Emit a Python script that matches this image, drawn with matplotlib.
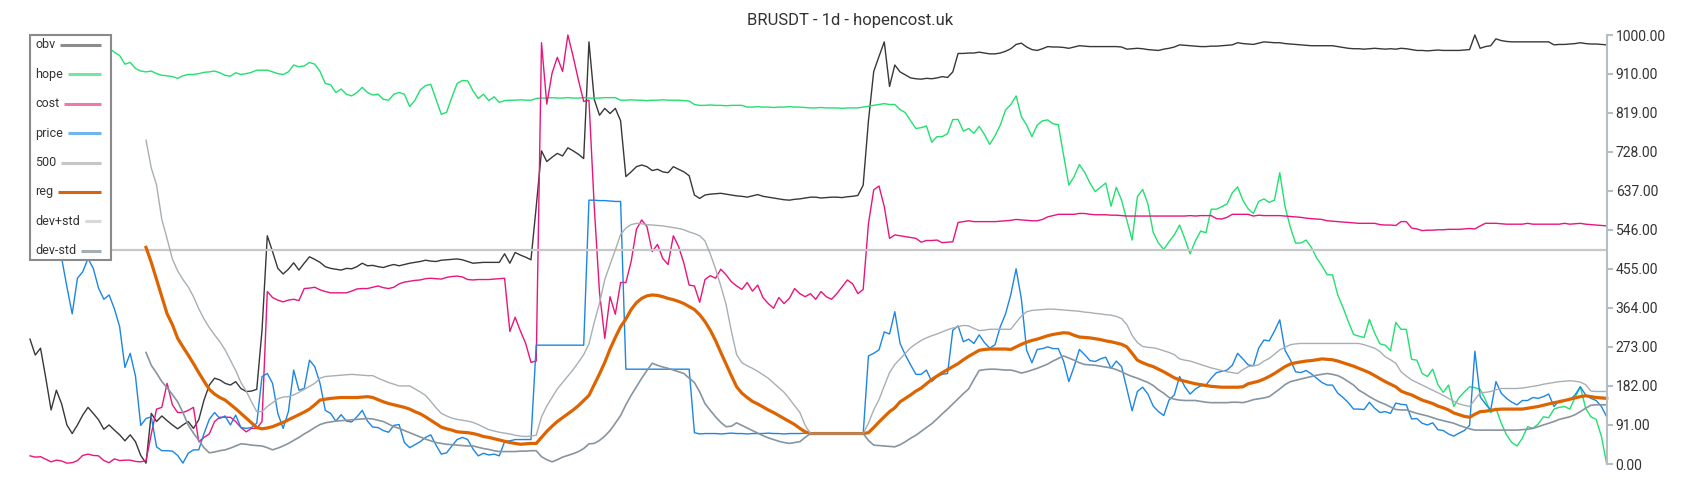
import numpy as np
import matplotlib
matplotlib.use("Agg")
import matplotlib.pyplot as plt
from matplotlib.patches import Rectangle
from matplotlib.lines import Line2D

plt.rcParams['font.family'] = ['Roboto', 'DejaVu Sans']

TITLE = "BRUSDT - 1d - hopencost.uk"
YTICKS = [0, 91, 182, 273, 364, 455, 546, 637, 728, 819, 910, 1000]
LEVEL_500 = 500
BAND_START = 22

obv = [
    291, 254, 270, 200, 126, 172, 140, 91, 71, 91,
    114, 132, 118, 103, 81, 91, 79, 68, 54, 68,
    52, 20, 2, 118, 99, 112, 101, 91, 82, 91,
    99, 83, 103, 149, 184, 200, 196, 188, 184, 192,
    176, 169, 170, 174, 312, 532, 495, 456, 443, 454,
    469, 452, 468, 483, 477, 470, 460, 456, 454, 452,
    456, 455, 460, 468, 462, 463, 460, 458, 462, 465,
    462, 465, 468, 470, 472, 475, 473, 472, 475, 476,
    477, 478, 476, 472, 468, 469, 470, 470, 470, 470,
    490, 468, 493, 487, 482, 476, 600, 730, 705, 715,
    724, 718, 737, 730, 722, 712, 984, 850, 813, 829,
    817, 829, 800, 670, 681, 693, 697, 693, 684, 687,
    681, 679, 693, 687, 681, 672, 627, 619, 627, 629,
    630, 631, 629, 627, 625, 624, 622, 625, 628, 624,
    622, 620, 618, 616, 615, 617, 618, 620, 622, 622,
    620, 621, 622, 622, 621, 623, 624, 626, 650, 800,
    915, 950, 984, 880, 930, 914, 907, 900, 898, 897,
    899, 898, 900, 903, 901, 914, 957, 957, 958, 958,
    960, 958, 956, 956, 958, 962, 968, 978, 981, 972,
    966, 964, 968, 973, 972, 972, 971, 969, 972, 975,
    974, 973, 973, 973, 973, 973, 973, 972, 967, 968,
    969, 968, 966, 965, 964, 967, 969, 972, 977, 976,
    975, 974, 973, 973, 974, 974, 975, 976, 977, 982,
    980, 979, 978, 981, 984, 983, 982, 982, 980, 979,
    978, 977, 976, 975, 975, 975, 975, 975, 973, 971,
    969, 968, 968, 967, 968, 969, 968, 967, 968, 967,
    969, 968, 966, 964, 964, 963, 964, 965, 964, 964,
    964, 964, 965, 966, 1000, 969, 973, 975, 991, 987,
    985, 984, 984, 984, 984, 984, 984, 984, 984, 977,
    978, 978, 979, 980, 982, 980, 979, 979, 978, 977,
]

hope = [
    1000, 998, 995, 992, 990, 988, 985, 983, 980, 978,
    976, 975, 973, 972, 971, 969, 960, 952, 932, 936,
    922, 916, 914, 916, 910, 906, 905, 903, 899, 905,
    908, 908, 910, 913, 914, 916, 912, 906, 904, 912,
    908, 910, 913, 918, 918, 918, 914, 910, 908, 914,
    930, 926, 928, 936, 932, 915, 887, 884, 866, 874,
    862, 858, 866, 878, 866, 860, 862, 850, 848, 862,
    866, 862, 833, 848, 872, 882, 885, 850, 815, 820,
    855, 887, 894, 893, 870, 852, 862, 847, 856, 843,
    847, 848, 848, 849, 848, 848, 852, 853, 853, 854,
    853, 853, 854, 853, 853, 854, 853, 853, 853, 854,
    854, 854, 848, 848, 849, 848, 848, 847, 848, 848,
    849, 848, 848, 848, 847, 846, 838, 836, 836, 837,
    836, 836, 835, 836, 836, 836, 832, 832, 833, 832,
    832, 831, 832, 832, 833, 832, 832, 831, 830, 830,
    831, 830, 830, 830, 829, 830, 830, 830, 832, 834,
    836, 838, 840, 838, 838, 826, 819, 800, 782, 784,
    788, 750, 763, 763, 770, 803, 803, 776, 782, 771,
    787, 768, 745, 765, 790, 825, 838, 858, 810, 790,
    763, 790, 800, 802, 793, 791, 720, 650, 670, 698,
    680, 655, 635, 645, 655, 601, 645, 615, 569, 522,
    623, 640, 606, 540, 515, 500, 518, 534, 557, 525,
    490, 520, 543, 539, 594, 594, 600, 606, 632, 646,
    615, 595, 584, 612, 618, 610, 615, 679, 600, 552,
    515, 515, 522, 505, 480, 462, 441, 441, 394, 365,
    332, 302, 298, 295, 337, 305, 280, 277, 264, 330,
    314, 314, 244, 242, 211, 204, 221, 185, 167, 184,
    134, 155, 168, 180, 178, 174, 150, 120, 130, 95,
    68, 50, 42, 60, 87, 83, 93, 110, 108, 128,
    132, 134, 128, 155, 180, 130, 110, 104, 64, 0,
]

cost = [
    19, 16, 17, 11, 5, 9, 7, 2, 3, 8,
    20, 23, 20, 19, 8, 3, 12, 8, 9, 9,
    6, 5, 8, 70, 128, 132, 188, 138, 120, 120,
    125, 132, 52, 62, 70, 99, 109, 109, 109, 99,
    85, 75, 83, 83, 99, 402, 388, 382, 378, 382,
    384, 381, 409, 410, 412, 406, 402, 399, 399, 399,
    399, 403, 408, 409, 409, 412, 415, 411, 409, 412,
    420, 424, 426, 428, 429, 432, 433, 432, 431, 435,
    437, 438, 436, 430, 429, 430, 430, 430, 431, 432,
    433, 309, 342, 310, 281, 237, 240, 982, 839, 911,
    948, 915, 1000, 950, 895, 845, 848, 600, 400, 293,
    390, 349, 423, 423, 472, 547, 569, 553, 495, 512,
    479, 465, 532, 507, 468, 417, 415, 377, 430, 439,
    433, 454, 441, 425, 415, 407, 423, 403, 417, 388,
    374, 363, 388, 374, 386, 409, 397, 390, 397, 384,
    402, 390, 384, 397, 413, 429, 420, 397, 407, 560,
    639, 648, 600, 526, 534, 532, 530, 528, 526, 517,
    521, 521, 522, 516, 517, 518, 563, 565, 567, 565,
    565, 565, 565, 565, 566, 567, 568, 570, 569, 568,
    567, 567, 570, 576, 579, 582, 582, 582, 582, 584,
    584, 582, 581, 581, 581, 580, 580, 579, 578, 578,
    578, 578, 578, 578, 578, 578, 578, 578, 578, 578,
    579, 578, 579, 579, 579, 572, 571, 575, 582, 582,
    582, 582, 578, 580, 579, 579, 579, 579, 578, 577,
    576, 575, 573, 572, 571, 570, 567, 566, 565, 564,
    563, 562, 561, 561, 561, 561, 558, 557, 557, 556,
    565, 565, 550, 548, 544, 545, 545, 546, 546, 547,
    547, 547, 548, 549, 548, 555, 561, 561, 561, 560,
    559, 559, 559, 559, 561, 559, 559, 559, 559, 559,
    559, 561, 559, 560, 561, 559, 558, 557, 556, 555,
]

price = [
    640, 620, 600, 580, 560, 520, 480, 413, 350, 433,
    448, 479, 456, 410, 384, 394, 362, 320, 225, 258,
    205, 90, 106, 110, 40, 31, 31, 30, 20, 2,
    25, 33, 33, 71, 104, 120, 106, 112, 91, 114,
    85, 83, 85, 95, 204, 211, 188, 118, 83, 122,
    219, 172, 176, 242, 227, 188, 125, 118, 100, 115,
    100, 98, 110, 125, 100, 86, 85, 78, 74, 90,
    92, 50, 38, 45, 52, 62, 68, 44, 23, 26,
    42, 57, 62, 57, 35, 19, 25, 21, 23, 19,
    52, 54, 57, 57, 57, 57, 277, 277, 277, 277,
    277, 277, 277, 277, 277, 277, 615, 615, 614, 614,
    613, 612, 612, 221, 221, 221, 221, 221, 221, 221,
    221, 221, 221, 221, 221, 221, 73, 70, 71, 71,
    71, 70, 71, 72, 71, 71, 70, 71, 71, 71,
    72, 71, 71, 70, 71, 71, 71, 72, 71, 71,
    71, 70, 71, 71, 71, 71, 71, 71, 70, 252,
    258, 266, 308, 303, 355, 281, 254, 231, 209, 209,
    219, 192, 204, 209, 211, 312, 322, 285, 291, 281,
    301, 283, 270, 278, 320, 350, 395, 455, 385, 265,
    236, 267, 269, 273, 269, 269, 240, 192, 227, 267,
    255, 241, 239, 245, 249, 223, 240, 227, 176, 124,
    169, 179, 163, 135, 122, 113, 149, 161, 204, 180,
    163, 175, 182, 184, 200, 213, 216, 219, 230, 258,
    245, 231, 229, 270, 289, 287, 310, 336, 265, 243,
    215, 213, 218, 210, 200, 190, 184, 184, 165, 155,
    143, 128, 128, 127, 144, 130, 120, 122, 118, 142,
    139, 138, 105, 106, 95, 91, 96, 80, 78, 70,
    65, 72, 78, 90, 263, 157, 140, 126, 192, 165,
    153, 144, 138, 148, 148, 155, 153, 157, 163, 134,
    148, 148, 149, 161, 180, 161, 153, 148, 134, 110,
]

reg = [
    505, 470, 430, 390, 350, 325, 293, 273,
    254, 234, 213, 193, 174, 163, 155, 149, 139, 129,
    118, 107, 96, 85, 82, 84, 87, 92, 97, 103,
    109, 115, 121, 128, 138, 149, 151, 153, 154, 155,
    155, 155, 155, 156, 157, 155, 150, 145, 141, 138,
    135, 132, 128, 122, 117, 110, 102, 94, 86, 82,
    79, 75, 74, 73, 71, 68, 64, 62, 59, 56,
    53, 50, 48, 46, 47, 48, 48, 62, 76, 88,
    99, 108, 117, 126, 136, 148, 160, 185, 210, 237,
    268, 295, 320, 338, 360, 376, 386, 392, 394, 393,
    390, 386, 383, 379, 374, 367, 360, 348, 332, 312,
    288, 260, 233, 206, 180, 165, 155, 146, 140, 133,
    126, 120, 113, 106, 99, 92, 83, 75, 71, 71,
    71, 71, 71, 71, 71, 71, 71, 71, 71, 73,
    85, 98, 110, 122, 131, 145, 153, 161, 170, 177,
    187, 197, 205, 213, 220, 227, 234, 243, 251, 258,
    265, 267, 268, 268, 268, 268, 267, 273, 279, 284,
    288, 291, 295, 299, 302, 304, 306, 305, 300, 296,
    295, 294, 292, 290, 287, 285, 282, 279, 273, 258,
    242, 236, 231, 227, 221, 215, 208, 201, 196, 193,
    190, 187, 185, 183, 181, 180, 179, 179, 179, 179,
    180, 187, 190, 193, 198, 204, 211, 219, 227, 233,
    236, 238, 240, 241, 243, 245, 244, 243, 240, 236,
    232, 228, 223, 218, 213, 206, 199, 192, 186, 180,
    170, 165, 161, 155, 149, 145, 141, 135, 131, 126,
    119, 115, 111, 109, 116, 122, 123, 125, 127, 128,
    128, 128, 128, 128, 130, 132, 134, 137, 140, 143,
    145, 148, 151, 154, 157, 159, 157, 155, 154, 153,
]

dev_plus_std = [
    755, 690, 650, 570, 525, 478, 450, 430,
    413, 390, 362, 338, 318, 301, 285, 266, 242, 218,
    190, 170, 145, 122, 122, 134, 143, 152, 156, 157,
    161, 167, 174, 181, 188, 200, 204, 205, 206, 207,
    208, 209, 208, 207, 206, 206, 200, 195, 190, 186,
    182, 182, 182, 175, 168, 160, 146, 131, 118, 112,
    107, 104, 102, 100, 97, 92, 86, 80, 77, 74,
    72, 70, 67, 65, 64, 65, 67, 110, 135, 155,
    175, 190, 205, 220, 237, 255, 280, 330, 375, 430,
    465, 499, 535, 550, 558, 561, 560, 558, 557, 556,
    555, 553, 551, 549, 546, 541, 537, 532, 520, 490,
    455, 415, 372, 310, 255, 236, 229, 223, 216, 208,
    200, 189, 178, 167, 152, 136, 120, 90, 71, 71,
    71, 71, 71, 71, 71, 71, 71, 71, 71, 95,
    126, 150, 182, 213, 232, 245, 258, 271, 280, 288,
    294, 299, 303, 308, 313, 317, 320, 323, 322, 316,
    311, 312, 314, 314, 314, 314, 314, 330, 345, 355,
    358, 359, 360, 361, 361, 360, 359, 358, 357, 356,
    354, 353, 351, 350, 348, 347, 344, 339, 325, 300,
    283, 274, 272, 271, 268, 264, 260, 255, 245, 242,
    240, 236, 232, 228, 224, 221, 218, 215, 213, 211,
    220, 227, 229, 231, 240, 246, 256, 266, 272, 278,
    280, 281, 281, 281, 281, 281, 281, 281, 281, 281,
    281, 281, 281, 278, 274, 270, 262, 250, 243, 235,
    215, 205, 196, 190, 184, 178, 172, 166, 160, 153,
    146, 140, 137, 134, 150, 166, 167, 169, 173, 176,
    176, 176, 176, 177, 179, 181, 183, 186, 188, 190,
    192, 193, 194, 193, 191, 185, 170, 169, 169, 169,
]

dev_minus_std = [
    260, 230, 212, 192, 178, 162, 145, 120,
    91, 72, 55, 38, 26, 28, 31, 33, 37, 42,
    47, 46, 44, 43, 42, 38, 33, 37, 42, 48,
    55, 62, 70, 77, 85, 92, 96, 98, 100, 101,
    102, 103, 104, 105, 106, 105, 102, 99, 93, 87,
    83, 78, 73, 68, 63, 58, 54, 50, 48, 46,
    45, 44, 43, 42, 42, 39, 36, 34, 31, 29,
    29, 29, 29, 30, 30, 31, 31, 17, 10, 5,
    10, 16, 20, 24, 29, 36, 47, 48, 55, 65,
    78, 95, 113, 138, 160, 180, 200, 218, 235, 230,
    226, 223, 219, 215, 211, 200, 190, 168, 141, 125,
    110, 97, 87, 88, 96, 90, 84, 78, 72, 66,
    61, 57, 53, 50, 48, 50, 52, 62, 71, 71,
    71, 71, 71, 71, 71, 71, 71, 71, 71, 55,
    44, 43, 42, 41, 40, 45, 52, 60, 67, 76,
    85, 94, 105, 117, 128, 140, 152, 164, 175, 197,
    218, 220, 221, 221, 220, 219, 219, 216, 212, 215,
    219, 223, 228, 233, 240, 246, 252, 247, 242, 236,
    232, 231, 230, 228, 226, 224, 220, 215, 209, 204,
    200, 195, 190, 183, 173, 165, 155, 151, 149, 148,
    148, 148, 146, 144, 143, 143, 143, 143, 144, 144,
    143, 146, 150, 152, 154, 157, 166, 175, 185, 192,
    195, 198, 201, 204, 207, 209, 211, 209, 206, 200,
    192, 184, 172, 165, 157, 150, 144, 139, 133, 127,
    126, 126, 122, 118, 115, 112, 108, 104, 101, 98,
    95, 90, 86, 82, 79, 79, 79, 79, 79, 79,
    79, 79, 79, 80, 81, 83, 87, 91, 95, 99,
    104, 107, 110, 115, 122, 130, 137, 138, 138, 138,
]

N = len(obv)
for name, s in [("hope", hope), ("cost", cost), ("price", price)]:
    assert len(s) == N, (name, len(s))
for name, s in [("reg", reg), ("dev+std", dev_plus_std), ("dev-std", dev_minus_std)]:
    assert len(s) == N - BAND_START, (name, len(s))

W, H = 1700, 500
fig = plt.figure(figsize=(W / 100, H / 100), dpi=100)
fig.patch.set_facecolor('white')

ax_left, ax_right, ax_top, ax_bot = 30, 1606.7, 35, 464
ax = fig.add_axes([ax_left / W, 1 - ax_bot / H, (ax_right - ax_left) / W, (ax_bot - ax_top) / H])

x = np.arange(N)
xb = np.arange(BAND_START, N)

styles = {
    "obv": dict(color='#383838', lw=1.0),
    "hope": dict(color='#22e070', lw=1.0),
    "cost": dict(color='#e8157c', lw=1.0),
    "price": dict(color='#1c86e3', lw=1.0),
    "500": dict(color='#c8c8c8', lw=1.6),
    "reg": dict(color='#dd6400', lw=2.3),
    "dev+std": dict(color='#a8afb4', lw=1.0),
    "dev-std": dict(color='#8795a0', lw=1.2),
}

ax.plot(x, obv, clip_on=False, **styles["obv"])
ax.plot(x, hope, clip_on=False, **styles["hope"])
ax.plot(x, cost, clip_on=False, **styles["cost"])
ax.plot(x, price, clip_on=False, **styles["price"])
ax.axhline(LEVEL_500, **styles["500"])
ax.plot(xb, reg, clip_on=False, **styles["reg"])
ax.plot(xb, dev_plus_std, clip_on=False, **styles["dev+std"])
ax.plot(xb, dev_minus_std, clip_on=False, **styles["dev-std"])

ax.set_xlim(0, N - 1)
ax.set_ylim(0, 1000)
for sp in ["left", "top", "bottom"]:
    ax.spines[sp].set_visible(False)
ax.spines["right"].set_color('#b5bec5')
ax.spines["right"].set_linewidth(1.5)
ax.yaxis.tick_right()
ax.set_yticks(YTICKS)
ax.set_yticklabels([f"{v:.2f}" for v in YTICKS])
ax.tick_params(axis='y', length=4, width=1.5, color='#b5bec5', labelsize=10,
               labelcolor='#333333', pad=2.5)
ax.tick_params(axis='x', bottom=False, labelbottom=False)
ax.set_facecolor('white')

fig.text(0.5, 1 - 20.5 / H, TITLE, ha='center', va='center', fontsize=12, color='#333333')

# legend box (drawn manually: labels left, sample line to the right)
def fx(px):
    return px / W

def fy(py):
    return 1 - py / H

box = Rectangle((fx(30), fy(260)), fx(111) - fx(30), fy(35) - fy(260),
                transform=fig.transFigure, facecolor='white', edgecolor='#8a8a8a',
                lw=1.5, zorder=5)
fig.add_artist(box)

legend_items = [
    ("obv", '#8c8c8c'), ("hope", '#72e6a4'), ("cost", '#ee78b0'),
    ("price", '#72b4ee'), ("500", '#c6c6c6'), ("reg", '#d9620f'),
    ("dev+std", '#d5d9dc'), ("dev-std", '#a3aeb5'),
]
renderer = fig.canvas.get_renderer()
for k, (lab, col) in enumerate(legend_items):
    ypx = 45 + 29.4 * k
    t = fig.text(fx(35), fy(ypx), lab, ha='left', va='center', fontsize=9,
                 color='#333333', zorder=6)
    bb = t.get_window_extent(renderer=renderer)
    ln = Line2D([(bb.x1 + 5) / W, fx(101)], [fy(ypx), fy(ypx)], transform=fig.transFigure,
                color=col, lw=2.2, zorder=6, solid_capstyle='butt')
    fig.add_artist(ln)

fig.savefig("out.png", dpi=100, facecolor='white')
